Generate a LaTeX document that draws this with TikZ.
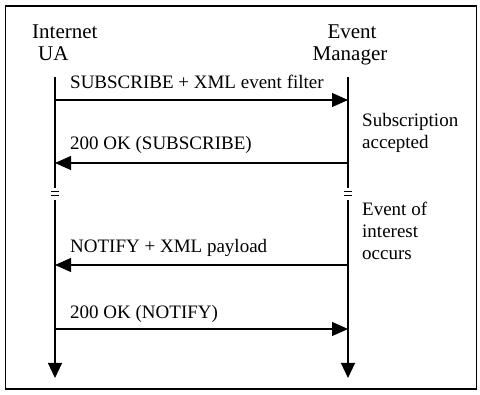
\documentclass[tikz,border=0pt]{standalone}
\usepackage{fontspec}
\setmainfont{Liberation Serif}
\usetikzlibrary{arrows.meta}
\tikzset{
  head/.style={anchor=base west, inner sep=0pt, font=\fontsize{21}{22}\selectfont},
  lbl/.style={anchor=base west, inner sep=0pt, font=\fontsize{19}{22}\selectfont},
  life/.style={line width=1.1pt},
  lifeend/.style={line width=1.1pt, -{Triangle[length=15pt,width=14pt]}},
  msg/.style={line width=1.1pt, -{Triangle[length=16pt,width=14pt]}},
  brk/.style={line width=1.1pt},
  frame/.style={line width=1.8pt}
}
\begin{document}
\begin{tikzpicture}[x=1pt,y=-1pt]
\useasboundingbox (0,0) rectangle (480,395);
\draw[frame] (5.5,6) rectangle (476.5,389);

% headings
\node[head] (h1) at (32,39) {Internet};
\node[head] (h2) at (38,61) {UA};
\node[head, anchor=base] (h3) at (352,39) {Event};
\node[head, anchor=base] (h4) at (350,61) {Manager};

% lifeline coordinates
\coordinate (uaTop) at (55,77);
\coordinate (uaBrkA) at (55,188);
\coordinate (uaBrkB) at (55,200);
\coordinate (uaEnd) at (55,378);
\coordinate (emTop) at (348,77);
\coordinate (emBrkA) at (348,188);
\coordinate (emBrkB) at (348,200);
\coordinate (emEnd) at (348,378);

\draw[life] (uaTop) -- (uaBrkA);
\draw[lifeend] (uaBrkB) -- (uaEnd);
\draw[life] (emTop) -- (emBrkA);
\draw[lifeend] (emBrkB) -- (emEnd);

% break marks
\coordinate (b1a) at (51,191.5); \coordinate (b1b) at (59,191.5);
\coordinate (b2a) at (51,195.5); \coordinate (b2b) at (59,195.5);
\coordinate (b3a) at (344,191.5); \coordinate (b3b) at (352,191.5);
\coordinate (b4a) at (344,195.5); \coordinate (b4b) at (352,195.5);
\draw[brk] (b1a) -- (b1b);
\draw[brk] (b2a) -- (b2b);
\draw[brk] (b3a) -- (b3b);
\draw[brk] (b4a) -- (b4b);

% messages
\coordinate (ua1) at (55,100);  \coordinate (em1) at (348,100);
\coordinate (ua2) at (55,163);  \coordinate (em2) at (348,163);
\coordinate (ua3) at (55,265);  \coordinate (em3) at (348,265);
\coordinate (ua4) at (55,329);  \coordinate (em4) at (348,329);
\draw[msg] (ua1) -- (em1);
\draw[msg] (em2) -- (ua2);
\draw[msg] (em3) -- (ua3);
\draw[msg] (ua4) -- (em4);

\node[lbl] (m1) at (70,89) {SUBSCRIBE + XML event filter};
\node[lbl] (m2) at (70,150) {200 OK (SUBSCRIBE)};
\node[lbl] (m3) at (70,253) {NOTIFY + XML payload};
\node[lbl] (m4) at (70,319) {200 OK (NOTIFY)};

% side notes
\node[lbl] (n1) at (362,127) {Subscription};
\node[lbl] (n2) at (362,149) {accepted};
\node[lbl] (n3) at (362,216) {Event of};
\node[lbl] (n4) at (362,238) {interest};
\node[lbl] (n5) at (362,260) {occurs};
\end{tikzpicture}
\end{document}
